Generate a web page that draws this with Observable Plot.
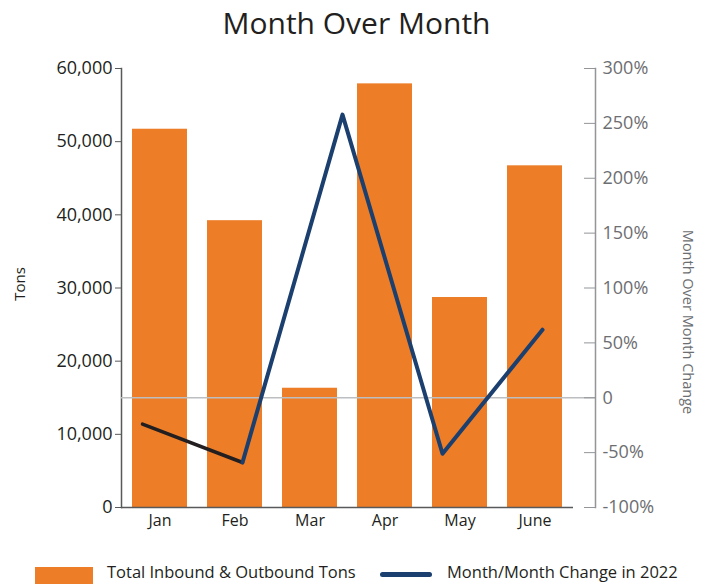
<!DOCTYPE html>
<html><head><meta charset="utf-8">
<script src="https://cdn.jsdelivr.net/npm/d3@7"></script>
<script src="https://cdn.jsdelivr.net/npm/@observablehq/plot@0.6"></script>
<style>
body{margin:0;background:#fff;font-family:"Open Sans",sans-serif;color:#231f20}
#wrap{position:relative;width:713px;height:584px;overflow:hidden}
#title{height:45px;line-height:45px;text-align:center;font-size:30px}
#chart{position:absolute;top:45px;left:0}
#overlay{position:absolute;top:45px;left:0}
.lg{position:absolute;white-space:nowrap;font-size:16.5px;line-height:normal;top:560px}
.sw{position:absolute;left:35px;top:567px;width:58px;height:20px;background:#ED7D27}
.ln{position:absolute;left:380px;top:572px;width:52px;height:5px;border-radius:3px;background:#1b3f6e}
</style></head><body>
<div id="wrap">
<div id="title">Month Over Month</div>
<div id="chart"></div><div id="overlay"></div>
<div class="sw"></div><span class="lg" style="left:107px">Total Inbound &amp; Outbound Tons</span><div class="ln"></div><span class="lg" style="left:447px">Month/Month Change in 2022</span>
</div>
<script>
const months = ["Jan","Feb","Mar","Apr","May","June"];
const tons = [51700, 39200, 16300, 57900, 28700, 46700];
const changePoints = ["Feb","Mar","Apr","May","June"];
const changePct = [-24, -59, 258, -51, 62];
const tonTicks = [0,10000,20000,30000,40000,50000,60000];
const pctTicks = [-100,-50,0,50,100,150,200,250,300];

const barData = months.map((m,i)=>({month:m, tons:tons[i]}));
const lineData = changePoints.map((p,i)=>({pt:p, pct:changePct[i]}));

const common = {width:713, height:502, marginTop:23, marginBottom:40,
  style:{fontFamily:"Open Sans", fontSize:"18px", color:"#231f20", background:"transparent", overflow:"visible"}};

const main = Plot.plot({
  ...common, marginLeft:121, marginRight:140,
  x:{domain:months, paddingInner:0.27, paddingOuter:0.133},
  y:{domain:[0,60000]},
  marks:[
    Plot.barY(barData, {x:"month", y:"tons", fill:"#ED7D27"}),
    Plot.axisY(tonTicks, {tickSize:6, tickPadding:3, tickFormat:d3.format(","), stroke:"#58595b", label:null}),
    Plot.axisX({tickSize:0, tickPadding:7, fontSize:16, label:null}),
    Plot.ruleY([0], {stroke:"#58595b", strokeWidth:1.5}),
    Plot.frame({anchor:"left", stroke:"#58595b", strokeWidth:1.5}),
    Plot.text(["Tons"], {frameAnchor:"left", textAnchor:"middle", dx:-101, dy:-4, rotate:-90, fontSize:15, fill:"#231f20"})
  ]
});
document.getElementById("chart").appendChild(main);

const over = Plot.plot({
  ...common, marginLeft:121, marginRight:118,
  x:{type:"point", domain:changePoints, range:[141,543], padding:0, axis:null},
  y:{domain:[-100,300], axis:null},
  marks:[
    Plot.ruleY([0], {stroke:"#bcbec0", strokeWidth:1.5}),
    Plot.line(lineData.slice(0,2), {x:"pt", y:"pct", stroke:"#231f20", strokeWidth:3.5}),
    Plot.line(lineData.slice(1), {x:"pt", y:"pct", stroke:"#1b3f6e", strokeWidth:4}),
    Plot.axisY(pctTicks, {anchor:"right", tickSize:12, insetRight:12, tickPadding:7,
      tickFormat:d=>d===0?"0":d+"%", stroke:"#939598", fill:"#6d6e71", label:null}),
    Plot.frame({anchor:"right", stroke:"#939598", strokeWidth:1.5}),
    Plot.text(["Month Over Month Change"], {frameAnchor:"right", textAnchor:"middle", dx:92, dy:34, rotate:90, fontSize:14.5, fill:"#6d6e71"})
  ]
});
document.getElementById("overlay").appendChild(over);
</script>
</body></html>
